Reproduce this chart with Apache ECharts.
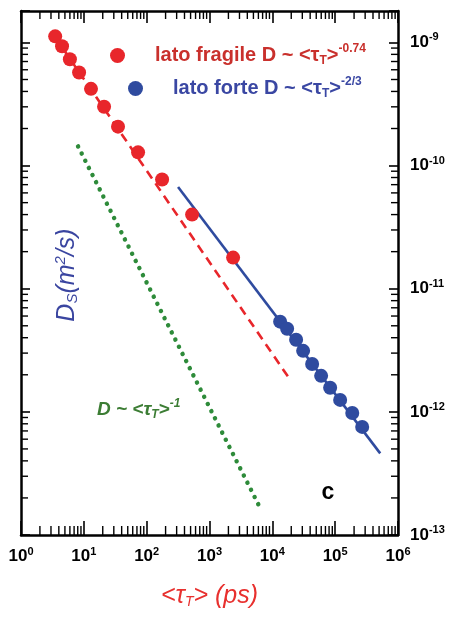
<!DOCTYPE html>
<html>
<head>
<meta charset="utf-8">
<script src="https://cdn.jsdelivr.net/npm/echarts@6/dist/echarts.min.js"></script>
<style>
  html, body { margin: 0; padding: 0; background: #fff; }
  #chart-box { width: 454px; height: 617px; }
</style>
</head>
<body>
<div id="chart-box"></div>
<script>
// axis ranges
const X_MIN = 1, X_MAX = 1e6
const Y_MIN = 1e-13, Y_MAX = 1.8e-9

// lato fragile (red points), tau in ps, D in m^2/s
const fragileTau = [3.5, 4.5, 6.0, 8.4, 13, 21, 35, 73, 176, 528, 2375]
const fragileD = [1.12e-9, 9.3e-10, 7.3e-10, 5.7e-10, 4.2e-10, 3.0e-10, 2.07e-10, 1.28e-10, 7.7e-11, 4.0e-11, 1.79e-11]

// lato forte (blue points)
const forteTau = [13300, 17200, 23900, 30900, 43000, 59800, 83200, 120000, 187000, 269000]
const forteD = [5.4e-12, 4.73e-12, 3.85e-12, 3.13e-12, 2.45e-12, 1.96e-12, 1.57e-12, 1.25e-12, 9.8e-13, 7.55e-13]

// fit lines, end points
const fragileFit = [[3.3, 1.15e-9], [17800, 1.93e-12]]
const forteFit = [[316, 6.7e-11], [521000, 4.6e-13]]
const inverseLine = [[8.1, 1.43e-10], [6390, 1.66e-13]]

// minor log ticks
const mantissas = [2, 3, 4, 5, 6, 7, 8, 9]
const xDecades = [1, 10, 100, 1e3, 1e4, 1e5]
const yDecades = [1e-13, 1e-12, 1e-11, 1e-10, 1e-9]

const xMinor = []
xDecades.forEach(d => mantissas.forEach(m => xMinor.push([m * d, Y_MIN])))
const yMinor = []
yDecades.forEach(d => mantissas.forEach(m => { if (m * d < Y_MAX) yMinor.push([X_MIN, m * d]) }))

const zip = (a, b) => a.map((v, i) => [v, b[i]])

const RED = '#e8262b'
const BLUE = '#2f4b9f'
const GREEN = '#2e8b3a'

function powLabel(v) {
  const e = Math.round(Math.log10(v))
  if (Math.abs(Math.log10(v) - e) > 0.01) return ''
  return '{b|10}{s|' + e + '}'
}
const powRich = {
  b: {fontFamily: 'Liberation Sans', fontWeight: 'bold', fontSize: 17, color: '#000'},
  s: {fontFamily: 'Liberation Sans', fontWeight: 'bold', fontSize: 11, color: '#000', padding: [0, 0, 10, 0]}
}

function xTickItem(params, api) {
  const v = api.value(0)
  const b = api.coord([v, Y_MIN])
  const t = api.coord([v, Y_MAX])
  const st = {stroke: '#000', lineWidth: 1.4}
  return {type: 'group', children: [
    {type: 'line', shape: {x1: b[0], y1: b[1], x2: b[0], y2: b[1] - 9}, style: st},
    {type: 'line', shape: {x1: t[0], y1: t[1], x2: t[0], y2: t[1] + 8}, style: st}
  ]}
}
function yTickItem(params, api) {
  const v = api.value(1)
  const l = api.coord([X_MIN, v])
  const r = api.coord([X_MAX, v])
  const st = {stroke: '#000', lineWidth: 1.4}
  return {type: 'group', children: [
    {type: 'line', shape: {x1: l[0], y1: l[1], x2: l[0] + 7, y2: l[1]}, style: st},
    {type: 'line', shape: {x1: r[0], y1: r[1], x2: r[0] - 7, y2: r[1]}, style: st}
  ]}
}

const legendRich = (color) => ({
  t: {fontFamily: 'Liberation Sans', fontWeight: 'bold', fontSize: 20, color: color},
  sub: {fontFamily: 'Liberation Sans', fontWeight: 'bold', fontSize: 12, color: color, padding: [10, 0, 0, 0]},
  sup: {fontFamily: 'Liberation Sans', fontWeight: 'bold', fontSize: 12, color: color, padding: [0, 0, 13, 0]}
})

const chart = echarts.init(document.getElementById('chart-box'))
chart.setOption({
  animation: false,
  grid: {left: 21, right: 56, top: 11, bottom: 82},
  legend: [
    {
      data: ['lato fragile'], left: 105, top: 38, itemWidth: 15, itemHeight: 15,
      icon: 'circle',
      textStyle: {padding: [0, 0, 0, 25], rich: legendRich('#c9302c')},
      formatter: () => '{t|lato fragile D ~ <τ}{sub|T}{t|>}{sup|-0.74}'
    },
    {
      data: ['lato forte'], left: 123, top: 71, itemWidth: 15, itemHeight: 15,
      icon: 'circle',
      textStyle: {padding: [0, 0, 0, 25], rich: legendRich('#3a47a3')},
      formatter: () => '{t|lato forte D ~ <τ}{sub|T}{t|>}{sup|-2/3}'
    }
  ],
  xAxis: [
    {
      type: 'log', min: X_MIN, max: X_MAX, position: 'bottom',
      name: '<τ{s|T}> (ps)', nameLocation: 'middle', nameGap: 48,
      nameTextStyle: {
        fontFamily: 'Liberation Sans', fontStyle: 'italic', fontSize: 25, color: '#e8302e',
        rich: {s: {fontFamily: 'Liberation Sans', fontStyle: 'italic', fontSize: 14, color: '#e8302e', padding: [12, 0, 0, 0]}}
      },
      axisLine: {lineStyle: {color: '#000', width: 2.5}},
      axisTick: {inside: true, length: 14, lineStyle: {color: '#000', width: 1.6}},
      axisLabel: {margin: 11, formatter: powLabel, rich: powRich},
      splitLine: {show: false}
    },
    {
      type: 'log', min: X_MIN, max: X_MAX, position: 'top',
      axisLine: {lineStyle: {color: '#000', width: 2.5}},
      axisTick: {inside: true, length: 12, lineStyle: {color: '#000', width: 1.6}},
      axisLabel: {show: false},
      splitLine: {show: false}
    }
  ],
  yAxis: [
    {
      type: 'log', min: Y_MIN, max: Y_MAX, position: 'right',
      axisLine: {lineStyle: {color: '#000', width: 2.5}},
      axisTick: {inside: true, length: 9, lineStyle: {color: '#000', width: 1.6}},
      axisLabel: {margin: 12, formatter: powLabel, rich: powRich},
      splitLine: {show: false}
    },
    {
      type: 'log', min: Y_MIN, max: Y_MAX, position: 'left',
      axisLine: {lineStyle: {color: '#000', width: 2.5}},
      axisTick: {inside: true, length: 9, lineStyle: {color: '#000', width: 1.6}},
      axisLabel: {show: false},
      splitLine: {show: false}
    }
  ],
  graphic: [
    {
      type: 'text', x: 67, y: 275, rotation: Math.PI / 2,
      style: {
        text: '{t|D}{s|S}{t|(m}{p|2}{t|/s)}', align: 'center', verticalAlign: 'middle',
        rich: {
          t: {fontFamily: 'Liberation Sans', fontStyle: 'italic', fontSize: 25, fill: '#3a45a0'},
          s: {fontFamily: 'Liberation Sans', fontStyle: 'italic', fontSize: 15, fill: '#3a45a0', padding: [11, 0, 0, 0]},
          p: {fontFamily: 'Liberation Sans', fontStyle: 'italic', fontSize: 15, fill: '#3a45a0', padding: [0, 0, 13, 0]}
        }
      }
    },
    {
      type: 'text', x: 97, y: 410,
      style: {
        text: '{t|D ~ <τ}{s|T}{t|>}{p|-1}', align: 'left', verticalAlign: 'middle',
        rich: {
          t: {fontFamily: 'Liberation Sans', fontStyle: 'italic', fontWeight: 'bold', fontSize: 19, fill: '#3c7d34'},
          s: {fontFamily: 'Liberation Sans', fontStyle: 'italic', fontWeight: 'bold', fontSize: 12, fill: '#3c7d34', padding: [9, 0, 0, 0]},
          p: {fontFamily: 'Liberation Sans', fontStyle: 'italic', fontWeight: 'bold', fontSize: 12, fill: '#3c7d34', padding: [0, 0, 12, 0]}
        }
      }
    },
    {
      type: 'text', x: 328, y: 493,
      style: {text: 'c', fontFamily: 'Liberation Sans', fontWeight: 'bold', fontSize: 23, fill: '#000', align: 'center', verticalAlign: 'middle'}
    }
  ],
  series: [
    {
      name: 'fragile fit', type: 'line', data: fragileFit, symbol: 'none', z: 2,
      lineStyle: {color: RED, width: 2.6, type: [9, 6]}
    },
    {
      name: 'forte fit', type: 'line', data: forteFit, symbol: 'none', z: 2,
      lineStyle: {color: BLUE, width: 2.6}
    },
    {
      name: 'D ~ tau^-1', type: 'line', data: inverseLine, symbol: 'none', z: 2,
      lineStyle: {color: GREEN, width: 4.5, type: [0.01, 8], cap: 'round'}
    },
    {
      name: 'lato fragile', type: 'scatter', data: zip(fragileTau, fragileD),
      symbolSize: 14, itemStyle: {color: RED, opacity: 1}, z: 3
    },
    {
      name: 'lato forte', type: 'scatter', data: zip(forteTau, forteD),
      symbolSize: 14, itemStyle: {color: BLUE, opacity: 1}, z: 3
    },
    {
      name: 'x minor ticks', type: 'custom', data: xMinor, renderItem: xTickItem, clip: false, z: 5
    },
    {
      name: 'y minor ticks', type: 'custom', data: yMinor, renderItem: yTickItem, clip: false, z: 5
    }
  ]
})
</script>
</body>
</html>
